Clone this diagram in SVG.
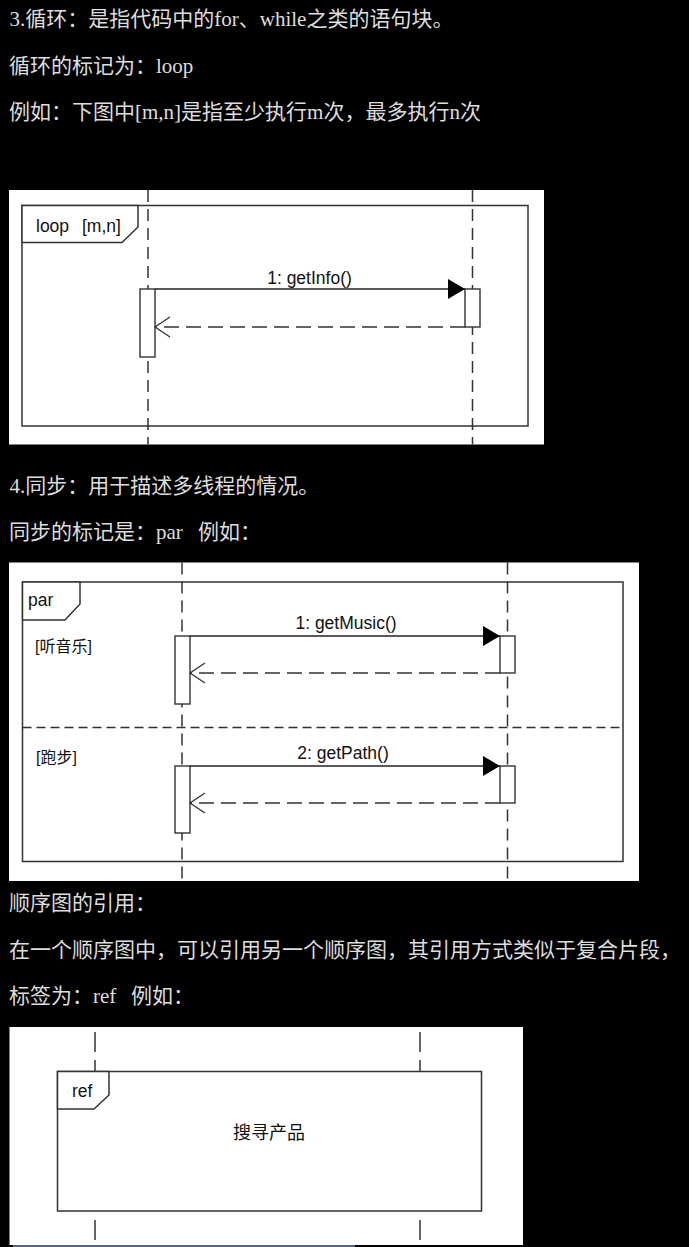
<svg xmlns="http://www.w3.org/2000/svg" width="689" height="1247" viewBox="0 0 689 1247">
<style>
.body{font-family:"Liberation Serif","Noto Sans CJK SC",serif;font-size:21px;fill:#dddddd}
.bg{fill:#ffffff}
.frame{fill:none;stroke:#333;stroke-width:1.5}
.tag{fill:#ffffff;stroke:#333;stroke-width:1.5}
.life{stroke:#333;stroke-width:1.5;stroke-dasharray:12 7;fill:none}
.lifeR{stroke:#333;stroke-width:1.5;stroke-dasharray:20 8;fill:none}
.act{fill:#ffffff;stroke:#333;stroke-width:1.4}
.msg{stroke:#222;stroke-width:1.4;fill:none}
.ret{stroke:#333;stroke-width:1.4;stroke-dasharray:15 7;fill:none}
.sep{stroke:#333;stroke-width:1.4;stroke-dasharray:9 5;fill:none}
.lbl{font-family:"Liberation Sans","Noto Sans CJK SC",sans-serif;font-size:17.5px;fill:#111}
.guard{font-family:"Liberation Sans","Noto Sans CJK SC",sans-serif;font-size:16px;fill:#111}
.big{font-family:"Liberation Sans","Noto Sans CJK SC",sans-serif;font-size:18px;fill:#111}
</style>
<defs>
<marker id="filled" markerUnits="userSpaceOnUse" markerWidth="17" markerHeight="20" refX="17" refY="10" orient="auto" viewBox="0 0 17 20">
<path d="M0,0 L17,10 L0,20 z" fill="#000"/>
</marker>
<marker id="open" markerUnits="userSpaceOnUse" markerWidth="18" markerHeight="24" refX="16" refY="11" orient="auto" viewBox="0 0 18 24">
<path d="M1,1 L16,11 L1,21" fill="none" stroke="#333" stroke-width="1.3"/>
</marker>
</defs>
<rect x="0" y="0" width="689" height="1247" fill="#000"/>

<g id="texts">
<text class="body" x="9.5" y="26">3.循环：是指代码中的for、while之类的语句块。</text>
<text class="body" x="9" y="72.5">循环的标记为：loop</text>
<text class="body" x="9" y="119">例如：下图中[m,n]是指至少执行m次，最多执行n次</text>
<text class="body" x="9.5" y="492.5">4.同步：用于描述多线程的情况。</text>
<text class="body" x="9" y="539">同步的标记是：par <tspan x="198">例如：</tspan></text>
<text class="body" x="9" y="910">顺序图的引用：</text>
<text class="body" x="9" y="957">在一个顺序图中，可以引用另一个顺序图，其引用方式类似于复合片段，</text>
<text class="body" x="9" y="1003">标签为：ref <tspan x="131">例如：</tspan></text>
</g>

<!-- Loop diagram -->
<g id="loop-diagram">
<rect class="bg" x="9" y="190" width="535" height="254.5"/>
<g id="loop-frame">
<rect class="frame" x="22" y="205.5" width="506" height="220.5"/>
<path class="tag" d="M22,205.5 H138 V227 L122,242.5 H22 Z"/>
<text class="lbl" x="36" y="232">loop <tspan x="82">[m,n]</tspan></text>
</g>
<g id="loop-lifeline-a"><line class="life" x1="148" y1="190" x2="148" y2="444.5"/></g>
<g id="loop-lifeline-b"><line class="life" x1="472.5" y1="190" x2="472.5" y2="444.5"/></g>
<g id="loop-act-a"><rect class="act" x="140" y="289" width="15" height="68"/></g>
<g id="loop-act-b"><rect class="act" x="465" y="289" width="15" height="38"/></g>
</g>

<!-- Par diagram -->
<g id="par-diagram">
<rect class="bg" x="9" y="562.5" width="630" height="318.5"/>
<g id="par-frame">
<rect class="frame" x="22.5" y="582" width="600.5" height="279.5"/>
<path class="tag" d="M22.5,582 H80 V604 L65,620 H22.5 Z"/>
<text class="lbl" x="28" y="606">par</text>
<line class="sep" x1="22.5" y1="727.5" x2="623" y2="727.5"/>
<text class="guard" x="35" y="652">[听音乐]</text>
<text class="guard" x="36" y="763">[跑步]</text>
</g>
<g id="par-lifeline-a"><line class="life" x1="182" y1="562.5" x2="182" y2="881"/></g>
<g id="par-lifeline-b"><line class="life" x1="507.5" y1="562.5" x2="507.5" y2="881"/></g>
<g id="par-act-a1"><rect class="act" x="175" y="636" width="15" height="68"/></g>
<g id="par-act-b1"><rect class="act" x="500" y="636" width="15" height="37"/></g>
<g id="par-act-a2"><rect class="act" x="175" y="766" width="15" height="67"/></g>
<g id="par-act-b2"><rect class="act" x="500" y="766" width="15" height="37"/></g>
</g>

<!-- Ref diagram -->
<g id="ref-diagram">
<rect class="bg" x="9.5" y="1027" width="513.5" height="218"/>
<g id="ref-lifeline-a">
<line class="lifeR" x1="95" y1="1032" x2="95" y2="1071"/>
<line class="lifeR" x1="95" y1="1220" x2="95" y2="1245"/>
</g>
<g id="ref-lifeline-b">
<line class="lifeR" x1="420" y1="1032" x2="420" y2="1071"/>
<line class="lifeR" x1="420" y1="1220" x2="420" y2="1245"/>
</g>
<g id="ref-frame">
<rect class="frame" x="57.5" y="1071.5" width="424" height="139.5"/>
<path class="tag" d="M57.5,1071.5 H109 V1095 L94,1109 H57.5 Z"/>
<text class="lbl" x="72" y="1097">ref</text>
<text class="big" x="269" y="1138.5" text-anchor="middle">搜寻产品</text>
</g>
</g>

<g id="connectors">
<line class="msg" x1="155" y1="289" x2="465" y2="289" marker-end="url(#filled)"/>
<text class="lbl" x="309.5" y="283.5" text-anchor="middle">1: getInfo()</text>
<line class="ret" x1="465" y1="327" x2="155" y2="327" marker-end="url(#open)"/>

<line class="msg" x1="190" y1="636" x2="500" y2="636" marker-end="url(#filled)"/>
<text class="lbl" x="346" y="628.5" text-anchor="middle">1: getMusic()</text>
<line class="ret" x1="500" y1="673" x2="190" y2="673" marker-end="url(#open)"/>

<line class="msg" x1="190" y1="766" x2="500" y2="766" marker-end="url(#filled)"/>
<text class="lbl" x="343" y="758.5" text-anchor="middle">2: getPath()</text>
<line class="ret" x1="500" y1="803" x2="190" y2="803" marker-end="url(#open)"/>
</g>

<rect x="13" y="1245" width="342" height="2" fill="#56657e"/>
</svg>
